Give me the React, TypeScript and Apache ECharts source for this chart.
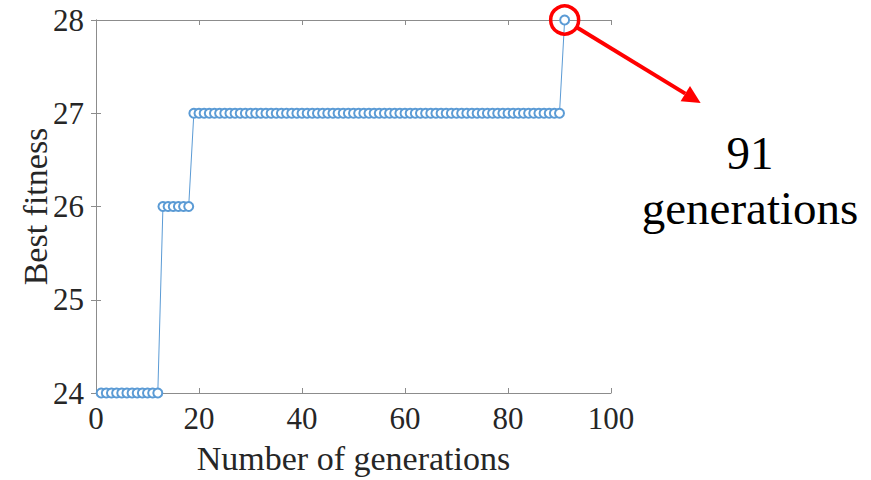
import React, { useEffect, useRef } from "react";
import * as echarts from "echarts";

// Best fitness per generation (generations 1..91)
const generations: number[] = Array.from({ length: 91 }, (_, i) => i + 1);
const fitness24 = new Array(12).fill(24); // gen 1-12
const fitness26 = new Array(6).fill(26); // gen 13-18
const fitness27 = new Array(72).fill(27); // gen 19-90
const fitness28 = [28]; // gen 91
const bestFitness: number[] = [...fitness24, ...fitness26, ...fitness27, ...fitness28];

const annotationLines = ["91", "generations"];
const highlightGen = 91;
const highlightVal = 28;

const FONT = "'Liberation Serif', 'Times New Roman', serif";
const AXIS_GRAY = "#8c8c8c";
const LINE_BLUE = "#5b9bd5";

export default function App() {
  const ref = useRef<HTMLDivElement>(null);
  useEffect(() => {
    if (!ref.current) return;
    const chart = echarts.init(ref.current, undefined, { renderer: "svg" });
    const data = generations.map((g, i) => [g, bestFitness[i]]);
    const commonAxis = {
      axisLine: { show: true, lineStyle: { color: AXIS_GRAY, width: 1 } },
      axisTick: { show: true, inside: true, length: 5, lineStyle: { color: AXIS_GRAY } },
      splitLine: { show: false },
    };
    chart.setOption({
      animation: false,
      backgroundColor: "#fff",
      grid: { left: 96, right: 260, top: 20, bottom: 85 },
      xAxis: [
        {
          type: "value",
          min: 0,
          max: 100,
          interval: 20,
          ...commonAxis,
          axisLabel: { fontFamily: FONT, fontSize: 31, color: "#262626", margin: 10 },
          name: "Number of generations",
          nameLocation: "middle",
          nameGap: 48,
          nameMoveOverlap: false,
          nameTextStyle: { fontFamily: FONT, fontSize: 34, color: "#262626" },
        },
        {
          type: "value",
          position: "top",
          min: 0,
          max: 100,
          interval: 20,
          ...commonAxis,
          axisLabel: { show: false },
        },
      ],
      yAxis: [
        {
          type: "value",
          min: 24,
          max: 28,
          interval: 1,
          ...commonAxis,
          axisLabel: { fontFamily: FONT, fontSize: 31, color: "#262626", margin: 12 },
          name: "Best fitness",
          nameLocation: "middle",
          nameGap: 44,
          nameMoveOverlap: false,
          nameTextStyle: { fontFamily: FONT, fontSize: 34, color: "#262626" },
        },
        {
          type: "value",
          position: "right",
          min: 24,
          max: 28,
          interval: 1,
          ...commonAxis,
          axisLabel: { show: false },
        },
      ],
      series: [
        {
          type: "line",
          data,
          symbol: "emptyCircle",
          symbolSize: 9,
          showSymbol: true,
          lineStyle: { color: LINE_BLUE, width: 1 },
          itemStyle: { color: LINE_BLUE, borderColor: LINE_BLUE, borderWidth: 1 },
          clip: false,
        },
      ],
    });

    const [cx, cy] = chart.convertToPixel({ gridIndex: 0 } as any, [highlightGen, highlightVal]) as number[];
    const r = 14;
    const endX = cx + 136;
    const endY = cy + 83;
    const dx = endX - cx;
    const dy = endY - cy;
    const len = Math.sqrt(dx * dx + dy * dy);
    const ux = dx / len;
    const uy = dy / len;
    const headLen = 18;
    const headW = 9;
    const bx = endX - ux * headLen;
    const by = endY - uy * headLen;
    chart.setOption({
      graphic: [
        {
          type: "circle",
          shape: { cx, cy, r },
          style: { fill: "none", stroke: "#ff0000", lineWidth: 3.5 },
          z: 100,
        },
        {
          type: "line",
          shape: { x1: cx + ux * r, y1: cy + uy * r, x2: bx, y2: by },
          style: { stroke: "#ff0000", lineWidth: 4 },
          z: 100,
        },
        {
          type: "polygon",
          shape: {
            points: [
              [endX, endY],
              [bx - uy * headW, by + ux * headW],
              [bx + uy * headW, by - ux * headW],
            ],
          },
          style: { fill: "#ff0000" },
          z: 100,
        },
        {
          type: "text",
          x: 750,
          y: 153,
          style: {
            text: annotationLines[0],
            font: `47px ${FONT}`,
            fill: "#000",
            align: "center",
            verticalAlign: "middle",
          },
        },
        {
          type: "text",
          x: 750,
          y: 208,
          style: {
            text: annotationLines[1],
            font: `47px ${FONT}`,
            fill: "#000",
            align: "center",
            verticalAlign: "middle",
          },
        },
      ],
    });
    return () => chart.dispose();
  }, []);
  return <div ref={ref} style={{ width: 871, height: 480, position: "absolute", left: 0, top: 0 }} />;
}
